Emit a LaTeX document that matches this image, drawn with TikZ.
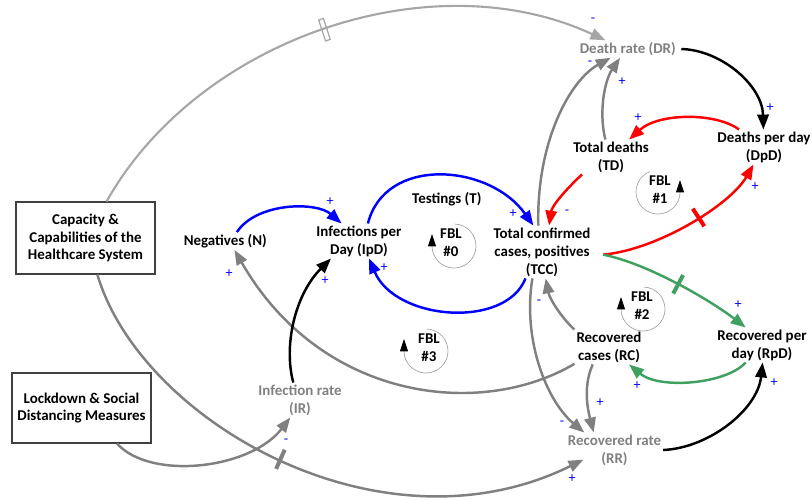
\documentclass[tikz,border=0pt]{standalone}
\usepackage{fontspec}
\setmainfont{Carlito}
\usetikzlibrary{arrows.meta}
\definecolor{linkgreen}{RGB}{64,160,96}
\definecolor{linkgray}{RGB}{128,128,128}
\definecolor{lightlink}{RGB}{166,166,166}
\definecolor{boxgray}{RGB}{64,64,64}
\begin{document}
\begin{tikzpicture}[x=0.02cm, y=0.02cm,
	font=\fontsize{8.5}{10.2}\selectfont\bfseries,
	var/.style = { align=center, inner sep=1pt },
	ext/.style = { rectangle, draw=boxgray, line width=0.6pt, align=center,
	minimum width=2.78cm, minimum height=1.44cm, inner sep=1pt },
	link/.style = { line width=1.4pt, -{Triangle[length=8.5pt, width=6.5pt]} },
	sign/.style = { font=\fontsize{8}{9}\selectfont, text=blue, inner sep=0pt },
	delaybar/.style = { sloped, fill, inner sep=0pt,
	minimum width=0.08cm, minimum height=0.42cm },
	delaydouble/.style = { sloped, draw, inner sep=0pt, line width=0.7pt,
	minimum width=0.1cm, minimum height=0.44cm },
	loopline/.style = { draw=gray!70, line width=0.4pt,
	-{Triangle[length=7pt, width=4.5pt, color=black]} } ]

  \useasboundingbox (0,0) rectangle (812,-500);

  \node [name=cap, ext] at (85.5,-238)
	{ Capacity \&\\ Capabilities of the\\ Healthcare System };
  \node [name=lock, ext, minimum height=1.4cm] at (81.5,-408)
	{ Lockdown \& Social\\ Distancing Measures };
  \node [name=neg, var] at (227,-241) { Negatives (N) };
  \node [name=ipd, var] at (359,-241) { Infections per\\ Day (IpD) };
  \node [name=test, var] at (448.5,-199) { Testings (T) };
  \node [name=tcc, var] at (542,-252)
	{ Total confirmed\\ cases, positives\\ (TCC) };
  \node [name=dr, var, text=linkgray] at (629.5,-49) { Death rate (DR) };
  \node [name=td, var] at (611,-157) { Total deaths\\ (TD) };
  \node [name=dpd, var] at (764,-147) { Deaths per day\\ (DpD) };
  \node [name=rc, var] at (609,-347) { Recovered\\ cases (RC) };
  \node [name=rpd, var] at (762,-345) { Recovered per\\ day (RpD) };
  \node [name=ir, var, text=linkgray] at (300,-400) { Infection rate\\ (IR) };
  \node [name=rr, var, text=linkgray] at (614.5,-450) { Recovered rate\\ (RR) };

  \node [name=fbl0, var] at (451,-243) { FBL\\ \#0 };
  \node [name=fbl1, var] at (660,-190) { FBL\\ \#1 };
  \node [name=fbl2, var] at (642,-306) { FBL\\ \#2 };
  \node [name=fbl3, var] at (429,-347.5) { FBL\\ \#3 };
  \coordinate (loop0) at (454,-246);
  \coordinate (loop1) at (658,-192);
  \coordinate (loop2) at (643,-309);
  \coordinate (loop3) at (426,-351);
  \draw [loopline] ([shift={(88:22)}]loop0) arc [start angle=88, end angle=-180, radius=22]
	-- ++(0,12);
  \draw [loopline] ([shift={(112:22)}]loop1) arc [start angle=112, end angle=360, radius=22]
	-- ++(0,12);
  \draw [loopline] ([shift={(88:22)}]loop2) arc [start angle=88, end angle=-180, radius=22]
	-- ++(0,12);
  \draw [loopline] ([shift={(88:22)}]loop3) arc [start angle=88, end angle=-180, radius=22]
	-- ++(0,12);

  \draw [link, blue] (neg.42) .. controls +(20,30) and +(-25,22) .. (ipd.135);
  \draw [link, blue] (ipd.63) .. controls +(17,68) and +(-44,62) .. (tcc.108);
  \draw [link, blue] (tcc.-122) .. controls +(-20,-51) and +(26,-62) .. (ipd.-60);
  \draw [link, linkgray] (rc.-154) .. controls +(-95,-56) and +(86,-150) .. (neg.-50);
  \draw [link, black] (ir.111) .. controls +(-10,37) and +(-36,-36) .. (ipd.-148);
  \draw [link, linkgray] (lock.-45) .. controls +(33,-37) and +(-40,-52) .. (ir.-119);
  \draw [link, linkgray] (cap.-72) .. controls +(43,-146) and +(-203,-100)
	.. ([xshift=10pt, yshift=-5.5pt]rr.west) node [delaybar, pos=0.5] {};
  \draw [link, lightlink, line width=1.2pt] (cap.60) .. controls +(91,162) and +(-175,81)
	.. (dr.160) node [delaydouble, pos=0.5] {};
  \draw [link, linkgray] (tcc.98) .. controls +(-2,85) and +(-40,-22) .. (dr.-155);
  \draw [link, linkgray] (td.108) .. controls +(-7,29) and +(-15,-22) .. (dr.-137);
  \draw [link, black] (dr.east) .. controls +(40,-1) and +(-1,44) .. (dpd.92);
  \draw [link, red] (dpd.145) .. controls +(-23,17) and +(30,27) .. (td.44);
  \draw [link, red] (td.-149) .. controls +(-16,-15) and +(3,20) .. (tcc.75);
  \draw [link, red] ([xshift=6pt, yshift=-1.5pt]tcc.east) .. controls +(55,5) and +(-23,-40)
	.. (dpd.-121) node [delaybar, pos=0.55] {};
  \draw [link, linkgreen] ([xshift=6pt, yshift=-1.5pt]tcc.east) .. controls +(45,-9) and +(-35,27)
	.. (rpd.133) node [delaybar, pos=0.5] {};
  \draw [link, linkgreen] (rpd.-133) .. controls +(-20,-22) and +(30,-25) .. (rc.-41);
  \draw [link, linkgray] (rc.north west) .. controls +(-12,11) and +(4,-21) .. (tcc.-82);
  \draw [link, linkgray] (tcc.-110) .. controls +(-10,-61) and +(-38,32) .. (rr.150);
  \draw [link, linkgray] (rc.-133) .. controls +(-9,-20) and +(-7,27) .. (rr.140);
  \draw [link, black] (rr.east) .. controls +(46,2) and +(-5,-47) .. (rpd.-88);

  \foreach \px/\py/\sg [count=\i] in {330/202/+, 513/214/+, 384/268/+, 229/274/+,
	325/281/+, 286/441/-, 572/479/+, 593/20/-, 590/63/-, 622/82/+, 770/108/+,
	638/118/+, 567/212/-, 755/187/+, 738/305/+, 637/386/+, 539/302/-, 562/423/-,
	600/403/+, 774/383/+}
	\node [name=sign\i, sign] at (\px,-\py) {\sg};
\end{tikzpicture}
\end{document}
